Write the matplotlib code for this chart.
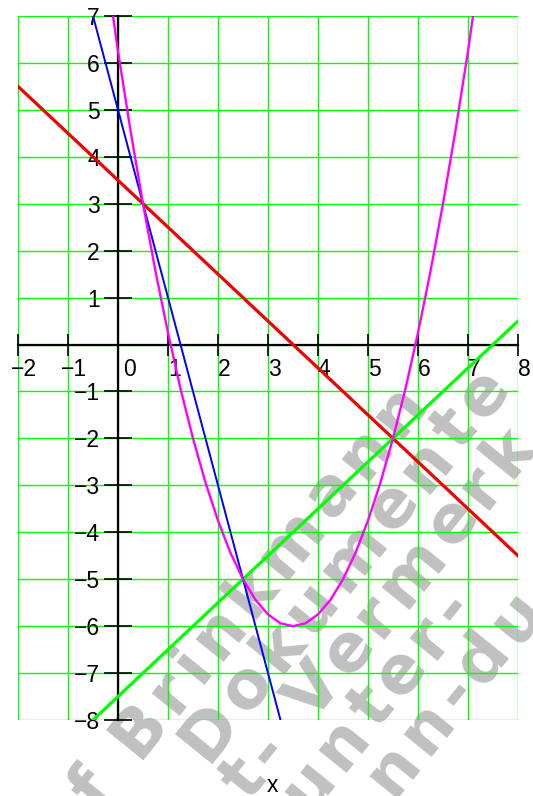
import numpy as np
import matplotlib
matplotlib.use('Agg')
import matplotlib.pyplot as plt
import matplotlib.transforms as mtransforms
from matplotlib.font_manager import FontProperties
from matplotlib.textpath import TextToPath

plt.rcParams['font.family'] = ['Liberation Sans', 'DejaVu Sans']

# Geraden (Endpunkte)
rot_x = [-2, 8]
rot_y = [5.5, -4.5]
blau_x = [-0.5, 3.25]
blau_y = [7, -8]
gruen_x = [-0.5, 8]
gruen_y = [-8, 0.5]

# Parabel (Punkte)
mag_x = [-0.1, 0, 0.25, 0.5, 0.75, 1, 1.25, 1.5, 1.75, 2, 2.25, 2.5, 2.75, 3,
         3.25, 3.5, 3.75, 4, 4.25, 4.5, 4.75, 5, 5.25, 5.5, 5.75, 6, 6.25,
         6.5, 6.75, 7, 7.1]
mag_y = [7.0, 6.25, 4.56, 3.0, 1.56, 0.25, -0.94, -2.0, -2.94, -3.75, -4.44,
         -5.0, -5.44, -5.75, -5.94, -6.0, -5.94, -5.75, -5.44, -5.0, -4.44,
         -3.75, -2.94, -2.0, -0.94, 0.25, 1.56, 3.0, 4.56, 6.25, 7.0]

x_ticks = list(range(-2, 9))
y_ticks = list(range(-8, 8))

# Wasserzeichen: Text, Abstand quer zur Schrift, Lage des ersten Buchstabens
wasserzeichen = ['f Brinkmann', 'Dokumente', 't- Vermerk', 'unter-', 'nn-du']
wz_quer = [568, 624, 680, 734, 790]
wz_laengs = [-555, -436, -452, -416, -350]

W, H = 533, 796
fig = plt.figure(figsize=(W / 100, H / 100), dpi=100)
ax = fig.add_axes([18 / W, (H - 720) / H, 500 / W, 704 / H])
ax.set_facecolor('none')

# Wasserzeichen Buchstabe fuer Buchstabe (gesperrt)
wz_fp = FontProperties(family='DejaVu Sans', weight='bold', size=47.5)
t2p = TextToPath()
w_bar = t2p.get_text_width_height_descent('|', wz_fp, ismath=False)[0]


def breite(s):
    if not s:
        return 0.0
    return (t2p.get_text_width_height_descent(s + '|', wz_fp, ismath=False)[0]
            - w_bar) * 100 / 72


winkel = 51
c, s = np.cos(np.radians(winkel)), np.sin(np.radians(winkel))
sperr = 7
for txt, q, l0 in zip(wasserzeichen, wz_quer, wz_laengs):
    mitten = []
    for i, ch in enumerate(txt):
        links = breite(txt[:i]) + i * sperr
        mitten.append(links + (breite(txt[:i + 1]) - breite(txt[:i])) / 2)
    for ch, m in zip(txt, mitten):
        a = l0 + m - mitten[0]
        px = q * s + a * c
        py = q * c - a * s
        fig.text(px / W, 1 - py / H, ch, fontproperties=wz_fp,
                 color='#c0c0c0', rotation=winkel, rotation_mode='anchor',
                 ha='center', va='center', zorder=-5)

ax.plot(rot_x, rot_y, color='#f00000', lw=2.3, zorder=4)
ax.plot(gruen_x, gruen_y, color='#00ff00', lw=2.3, zorder=4)
ax.plot(blau_x, blau_y, color='#0000ff', lw=1.4, zorder=4)
ax.plot(mag_x, mag_y, color='#ff00ff', lw=1.7, zorder=4)

ax.set_xlim(-2, 8)
ax.set_ylim(-8, 7)
ax.set_xticks(x_ticks)
ax.set_yticks(y_ticks)
ax.set_yticklabels(['' if v == 0 else str(v).replace('-', '\u2212') for v in y_ticks])
ax.set_xticklabels([str(v).replace('-', '\u2212') for v in x_ticks])
ax.grid(True, color='#00ff00', lw=1.0)
ax.set_axisbelow(True)

ax.spines['left'].set_position(('data', 0))
ax.spines['bottom'].set_position(('data', 0))
ax.spines['right'].set_visible(False)
ax.spines['top'].set_visible(False)
for sp in ('left', 'bottom'):
    ax.spines[sp].set_linewidth(1.6)
    ax.spines[sp].set_zorder(3)

ax.tick_params(axis='x', direction='inout', length=16, width=1.2, pad=2,
               labelsize=16.5)
ax.tick_params(axis='y', direction='inout', length=20, width=1.2, pad=3,
               labelsize=16.5)

for lab, v in zip(ax.get_xticklabels(), x_ticks):
    dx = 8 if v == 0 else 4.5
    lab.set_transform(lab.get_transform() +
                      mtransforms.ScaledTranslation(dx / 72, 0, fig.dpi_scale_trans))

fig.text(272 / W, 1 - 786 / H, 'x', fontsize=16.5, ha='center', va='center')

fig.savefig('out.png', dpi=100)
